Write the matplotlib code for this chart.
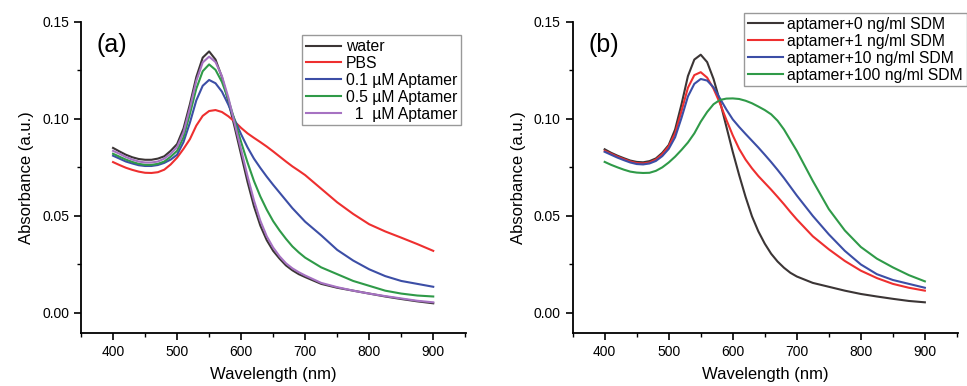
import matplotlib.pyplot as plt
from matplotlib.ticker import MultipleLocator

plt.rcParams.update({"font.family": ["Liberation Sans", "DejaVu Sans"], "font.size": 10})

# wavelength grid (nm)
wl = [400, 410, 420, 430, 440, 450, 460, 470, 480, 490, 500, 510, 520, 530, 540, 550,
      560, 570, 580, 590, 600, 610, 620, 630, 640, 650, 660, 670, 680, 690, 700,
      725, 750, 775, 800, 825, 850, 875, 900]

# panel (a)
water = [0.0850, 0.0832, 0.0815, 0.0802, 0.0793, 0.0789, 0.0789, 0.0795, 0.0807, 0.0835, 0.0870,
         0.0950, 0.1075, 0.1215, 0.1315, 0.1347, 0.1305, 0.1215, 0.1090, 0.0955, 0.0815,
         0.0675, 0.0550, 0.0450, 0.0375, 0.0320, 0.0280, 0.0245, 0.0220, 0.0200, 0.0185,
         0.0150, 0.0130, 0.0115, 0.0100, 0.0085, 0.0072, 0.0060, 0.0050]
pbs = [0.0777, 0.0762, 0.0748, 0.0737, 0.0728, 0.0722, 0.0721, 0.0725, 0.0738, 0.0765, 0.0800,
       0.0845, 0.0895, 0.0965, 0.1015, 0.1040, 0.1045, 0.1035, 0.1013, 0.0985, 0.0953,
       0.0925, 0.0902, 0.0880, 0.0857, 0.0832, 0.0806, 0.0780, 0.0755, 0.0733, 0.0710,
       0.0640, 0.0570, 0.0510, 0.0457, 0.0420, 0.0388, 0.0355, 0.0320]
apt01 = [0.0810, 0.0795, 0.0780, 0.0770, 0.0761, 0.0757, 0.0757, 0.0762, 0.0773, 0.0790, 0.0815,
         0.0880, 0.0980, 0.1095, 0.1170, 0.1200, 0.1183, 0.1140, 0.1073, 0.0995, 0.0920,
         0.0853, 0.0795, 0.0747, 0.0702, 0.0660, 0.0620, 0.0580, 0.0540, 0.0505, 0.0470,
         0.0400, 0.0325, 0.0270, 0.0225, 0.0190, 0.0165, 0.0150, 0.0135]
apt05 = [0.0820, 0.0805, 0.0790, 0.0778, 0.0768, 0.0763, 0.0763, 0.0768, 0.0780, 0.0805, 0.0835,
         0.0905, 0.1025, 0.1155, 0.1245, 0.1280, 0.1252, 0.1190, 0.1100, 0.0990, 0.0880,
         0.0775, 0.0680, 0.0600, 0.0532, 0.0473, 0.0425, 0.0382, 0.0343, 0.0312, 0.0285,
         0.0235, 0.0200, 0.0165, 0.0140, 0.0115, 0.0100, 0.0090, 0.0085]
apt1 = [0.0835, 0.0820, 0.0803, 0.0790, 0.0780, 0.0775, 0.0775, 0.0780, 0.0795, 0.0820, 0.0855,
        0.0930, 0.1055, 0.1195, 0.1290, 0.1320, 0.1292, 0.1220, 0.1110, 0.0975, 0.0840,
        0.0705, 0.0580, 0.0475, 0.0395, 0.0337, 0.0292, 0.0256, 0.0230, 0.0210, 0.0193,
        0.0155, 0.0133, 0.0115, 0.0100, 0.0087, 0.0075, 0.0063, 0.0055]

# panel (b)
sdm0 = [0.0843, 0.0825, 0.0810, 0.0797, 0.0785, 0.0778, 0.0776, 0.0782, 0.0796, 0.0825, 0.0865,
        0.0945, 0.1075, 0.1220, 0.1305, 0.1330, 0.1292, 0.1205, 0.1090, 0.0960, 0.0830,
        0.0710, 0.0598, 0.0498, 0.0420, 0.0357, 0.0305, 0.0265, 0.0233, 0.0207, 0.0188,
        0.0155, 0.0135, 0.0115, 0.0098, 0.0085, 0.0073, 0.0062, 0.0055]
sdm1 = [0.0835, 0.0820, 0.0805, 0.0792, 0.0780, 0.0772, 0.0770, 0.0775, 0.0790, 0.0818, 0.0858,
        0.0925, 0.1040, 0.1160, 0.1225, 0.1240, 0.1212, 0.1155, 0.1080, 0.0995, 0.0915,
        0.0845, 0.0790, 0.0745, 0.0705, 0.0670, 0.0635, 0.0598, 0.0560, 0.0520, 0.0482,
        0.0395, 0.0328, 0.0268, 0.0218, 0.0180, 0.0150, 0.0130, 0.0115]
sdm10 = [0.0830, 0.0815, 0.0800, 0.0787, 0.0775, 0.0767, 0.0765, 0.0770, 0.0783, 0.0808, 0.0845,
         0.0905, 0.1005, 0.1115, 0.1180, 0.1205, 0.1197, 0.1162, 0.1105, 0.1048, 0.0997,
         0.0958, 0.0922, 0.0887, 0.0852, 0.0815, 0.0777, 0.0737, 0.0695, 0.0650, 0.0605,
         0.0500, 0.0405, 0.0320, 0.0250, 0.0200, 0.0170, 0.0150, 0.0130]
sdm100 = [0.0778, 0.0763, 0.0750, 0.0738, 0.0728, 0.0723, 0.0721, 0.0722, 0.0732, 0.0750, 0.0775,
          0.0805, 0.0840, 0.0878, 0.0925, 0.0985, 0.1035, 0.1075, 0.1097, 0.1104, 0.1105,
          0.1102, 0.1093, 0.1080, 0.1063, 0.1045, 0.1023, 0.0990, 0.0945, 0.0890, 0.0835,
          0.0680, 0.0535, 0.0425, 0.0340, 0.0280, 0.0235, 0.0195, 0.0163]

labels_a = ["water", "PBS", "0.1 \u00b5M Aptamer", "0.5 \u00b5M Aptamer", "  1  \u00b5M Aptamer"]
labels_b = ["aptamer+0 ng/ml SDM", "aptamer+1 ng/ml SDM", "aptamer+10 ng/ml SDM", "aptamer+100 ng/ml SDM"]
cols_a = ["#3b3535", "#ee2f2f", "#3c4ea6", "#2f9a48", "#a672c2"]
cols_b = ["#3b3535", "#ee2f2f", "#3c4ea6", "#2f9a48"]

fig = plt.figure(figsize=(9.67, 3.86), dpi=100)
ax1 = fig.add_axes([0.0838, 0.1373, 0.398, 0.8065])
ax2 = fig.add_axes([0.5922, 0.1373, 0.398, 0.8065])


def style(ax, tag):
    ax.set_xlim(350, 951)
    ax.set_ylim(-0.0103, 0.15)
    ax.spines['top'].set_visible(False)
    ax.spines['right'].set_visible(False)
    for s in ('left', 'bottom'):
        ax.spines[s].set_linewidth(1.3)
    ax.xaxis.set_minor_locator(MultipleLocator(50))
    ax.yaxis.set_minor_locator(MultipleLocator(0.025))
    ax.set_xticks(range(400, 901, 100))
    ax.set_yticks([0.0, 0.05, 0.10, 0.15])
    ax.set_yticklabels(["0.00", "0.05", "0.10", "0.15"])
    ax.tick_params(which='major', direction='out', length=5, width=1.2, labelsize=10)
    ax.tick_params(which='minor', direction='out', length=3, width=1.0)
    ax.set_xlabel("Wavelength (nm)", fontsize=12, labelpad=6)
    ax.set_ylabel("Absorbance (a.u.)", fontsize=12, labelpad=6)
    ax.text(0.04, 0.925, tag, transform=ax.transAxes, fontsize=18, va='center', ha='left')


for ys, c, l in zip([water, pbs, apt01, apt05, apt1], cols_a, labels_a):
    ax1.plot(wl, ys, color=c, lw=1.5, label=l)
for ys, c, l in zip([sdm0, sdm1, sdm10, sdm100], cols_b, labels_b):
    ax2.plot(wl, ys, color=c, lw=1.5, label=l)

style(ax1, "(a)")
style(ax2, "(b)")

for ax, anchor in ((ax1, (0.987, 0.957)), (ax2, (1.024, 1.028))):
    leg = ax.legend(loc='upper right', bbox_to_anchor=anchor, fontsize=11.3, frameon=True,
                    fancybox=False, edgecolor='#999999', framealpha=1, borderaxespad=0,
                    handlelength=2.2, handletextpad=0.3, labelspacing=0.12, borderpad=0.25)
    leg.get_frame().set_linewidth(1.0)

plt.savefig("out.png", dpi=100)
